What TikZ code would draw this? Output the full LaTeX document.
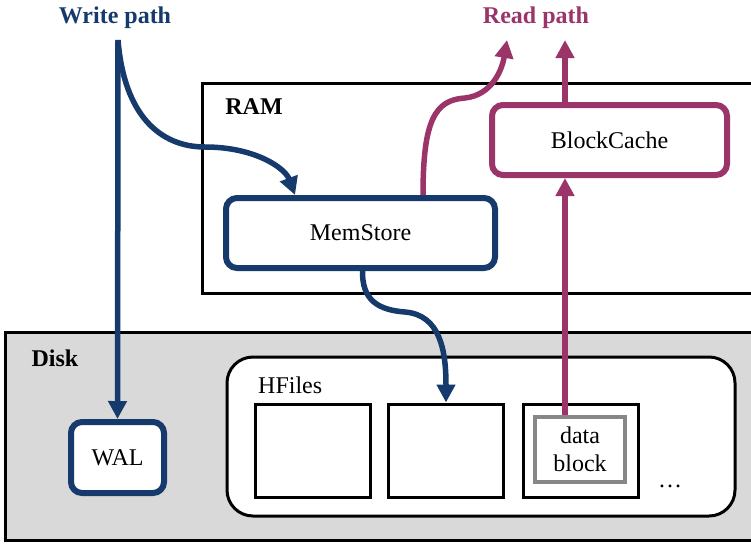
\documentclass[tikz,border=0pt]{standalone}
\usepackage{fontspec}
\setmainfont{Liberation Serif}
\usetikzlibrary{arrows.meta,calc}
\definecolor{navy}{RGB}{22,58,108}
\definecolor{plum}{RGB}{155,52,105}
\definecolor{diskgray}{RGB}{217,217,217}
\definecolor{dbgray}{RGB}{135,135,135}
\begin{document}
\begin{tikzpicture}[x=1pt,y=-1pt,
  font=\fontsize{24}{28}\selectfont,
  region/.style={draw=black, line width=3pt, inner sep=0pt},
  navybox/.style={draw=navy, line width=6pt, rounded corners=11pt, fill=white, inner sep=0pt},
  plumbox/.style={draw=plum, line width=6pt, rounded corners=11pt, fill=white, inner sep=0pt},
  filebox/.style={draw=black, line width=3pt, fill=white, inner sep=0pt, minimum width=115pt, minimum height=93pt},
  navyarrow/.style={draw=navy, line width=5.5pt, -{Triangle[length=18pt,width=18pt]}},
  plumarrow/.style={draw=plum, line width=5.5pt, -{Triangle[length=18pt,width=18pt]}},
  lbl/.style={inner sep=0pt}
]
\useasboundingbox (0,0) rectangle (751,543);
\clip (0,0) rectangle (751,543);

% regions
\node[region, minimum width=560pt, minimum height=210pt] (ram) at (482,188) {};
\node[region, fill=diskgray, minimum width=760pt, minimum height=208pt] (disk) at (385,436) {};
\node[lbl, font=\fontsize{24}{28}\selectfont\bfseries] (ramlbl) at (254,107) {RAM};
\node[lbl, font=\fontsize{24}{28}\selectfont\bfseries] (disklbl) at (55,358) {Disk};

% HFiles container
\node[draw=black, line width=3pt, rounded corners=26pt, fill=white, minimum width=508pt, minimum height=159pt, inner sep=0pt] (hf) at (481,436.5) {};
\node[lbl, anchor=west] (hflbl) at (258,385) {HFiles};
\node[filebox] (sq1) at (312.5,450.5) {};
\node[filebox] (sq2) at (446,450.5) {};
\node[filebox] (sq3) at (580.5,450.5) {};
\node[draw=dbgray, line width=4pt, fill=white, minimum width=90pt, minimum height=65pt, inner sep=0pt, align=center, font=\fontsize{24}{28}\selectfont] (db) at (580,449.5) {data\\block};
\node[lbl] (dots) at (670,486) {\dots};

% RAM boxes
\node[navybox, minimum width=269pt, minimum height=70pt] (mem) at (360.5,233) {MemStore};
\node[plumbox, minimum width=235pt, minimum height=70pt] (bc) at (609.5,140) {BlockCache};

% WAL
\node[navybox, minimum width=93pt, minimum height=71pt] (wal) at (117.5,457.5) {WAL};

% path labels
\node[lbl, text=navy, font=\fontsize{24}{28}\selectfont\bfseries] (wp) at (115,18) {Write path};
\node[lbl, text=plum, font=\fontsize{24}{28}\selectfont\bfseries] (rp) at (536,18) {Read path};

\coordinate (wtop) at (118,40);
\coordinate (r1) at (507,40);
\coordinate (r2) at (565,40);

% write arrows
\draw[navyarrow] (wtop) -- (wal.north);
\draw[navyarrow] (wtop) .. controls (124,115) and (160,147) .. (205,147)
  .. controls (255,147) and (285,168) .. ([xshift=-65.5pt]mem.north);
\draw[navyarrow] ([xshift=2pt]mem.south) .. controls (362,300) and (378,310) .. (405,312)
  .. controls (440,315) and (446,350) .. (sq2.north);

% read arrows
\draw[plumarrow] ([xshift=62.5pt]mem.north) .. controls (423,120) and (435,100) .. (465,98)
  .. controls (492,95) and (502,70) .. (r1);
\draw[plumarrow] ([xshift=-44.5pt]bc.north) -- (r2);
\draw[plumarrow] ([xshift=-15pt]db.north) -- ([xshift=-44.5pt]bc.south);
\end{tikzpicture}
\end{document}
